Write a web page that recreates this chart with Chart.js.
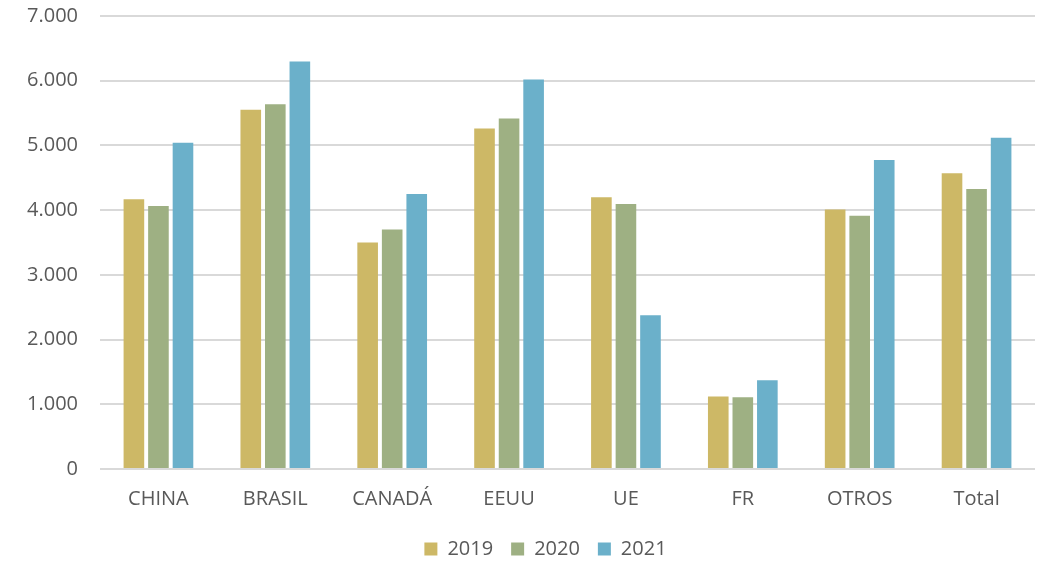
<!DOCTYPE html>
<html>
<head>
<meta charset="utf-8">
<script src="https://cdn.jsdelivr.net/npm/chart.js@4"></script>
<style>
  html, body { margin: 0; padding: 0; background: #fff; }
  #wrap { width: 1050px; height: 561px; position: relative; }
</style>
</head>
<body>
<div id="wrap"><canvas id="chart"></canvas></div>
<script>
  var categories = ["CHINA", "BRASIL", "CANADÁ", "EEUU", "UE", "FR", "OTROS", "Total"];
  var years = ["2019", "2020", "2021"];
  var values2019 = [4170, 5550, 3500, 5260, 4200, 1120, 4010, 4570];
  var values2020 = [4065, 5635, 3700, 5415, 4095, 1110, 3915, 4325];
  var values2021 = [5040, 6295, 4250, 6020, 2375, 1370, 4775, 5120];
  var yTickLabels = ["0", "1.000", "2.000", "3.000", "4.000", "5.000", "6.000", "7.000"];

  var COLORS = ["#cdb866", "#9eb083", "#6bb0ca"];
  var FONT = "'Open Sans', 'Liberation Sans', sans-serif";
  var TEXT = "#595959";

  var seriesValues = [values2019, values2020, values2021];
  var datasets = years.map(function (y, i) {
    return {
      label: y,
      data: seriesValues[i],
      backgroundColor: COLORS[i],
      categoryPercentage: 0.63,
      barPercentage: 0.84
    };
  });

  // the original legend sits a bit right of centre
  var legendShift = {
    id: "legendShift",
    afterLayout: function (chart) {
      if (!chart.legend) return;
      chart.legend.left += 28;
      chart.legend.right += 28;
    }
  };

  new Chart(document.getElementById("chart"), {
    type: "bar",
    data: { labels: categories, datasets: datasets },
    plugins: [legendShift],
    options: {
      responsive: true,
      maintainAspectRatio: false,
      animation: false,
      layout: { padding: { top: 0, right: 15, left: 0, bottom: -8 } },
      plugins: {
        tooltip: { enabled: false },
        legend: {
          position: "bottom",
          labels: {
            color: TEXT,
            boxWidth: 13,
            boxHeight: 13,
            padding: 18,
            font: { family: FONT, size: 20 }
          }
        }
      },
      scales: {
        x: {
          grid: { display: false },
          border: { display: false },
          ticks: { color: TEXT, padding: 10, font: { family: FONT, size: 20 } }
        },
        y: {
          min: 0,
          max: 7000,
          afterFit: function (scale) { scale.width = 100; },
          grid: { color: "#d9d9d9", lineWidth: 2, tickLength: 18, tickColor: "rgba(0,0,0,0)" },
          border: { display: false },
          ticks: {
            stepSize: 1000,
            padding: 4,
            color: TEXT,
            font: { family: FONT, size: 20 },
            callback: function (v) { return yTickLabels[Math.round(v / 1000)]; }
          }
        }
      }
    }
  });
</script>
</body>
</html>
